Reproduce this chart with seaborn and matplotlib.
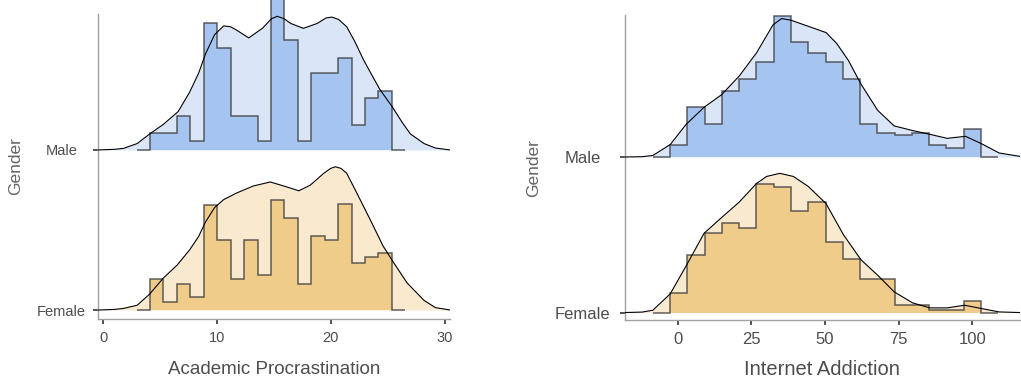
import numpy as np
import seaborn as sns
from matplotlib import pyplot as plt

# ---- data (heights in ridge units, 1 = gap between ridges) ----
genders = ["Female", "Male"]

# Academic Procrastination: 20 bins (first/last are empty padding bins)
ap_bin_start = 2.95
ap_bin_width = 1.18
ap_hist_male = [0, 0.104, 0.104, 0.215, 0.056, 0.796, 0.640, 0.215, 0.215, 0.056,
                0.98, 0.688, 0.056, 0.479, 0.479, 0.577, 0.156, 0.323, 0.371, 0]
ap_hist_female = [0, 0.192, 0.052, 0.163, 0.083, 0.656, 0.438, 0.194, 0.438, 0.219,
                  0.688, 0.573, 0.163, 0.463, 0.438, 0.660, 0.296, 0.329, 0.354, 0]

ap_dens_male_x = [-0.4, 1.0, 1.8, 3.0, 4.1, 5.3, 6.6, 7.6, 8.4, 9.0, 9.8, 10.6, 11.2, 11.7,
                  12.8, 14.0, 14.8, 15.3, 15.9, 16.5, 17.6, 18.8, 19.6, 20.1, 20.7,
                  21.4, 22.1, 22.9, 24.3, 25.4, 26.3, 27.0, 28.2, 29.2, 30.5]
ap_dens_male_y = [0, 0.004, 0.01, 0.04, 0.10, 0.16, 0.24, 0.36, 0.48, 0.60, 0.72, 0.775, 0.77,
                  0.75, 0.70, 0.76, 0.82, 0.835, 0.82, 0.79, 0.76, 0.79, 0.825, 0.83, 0.815,
                  0.77, 0.68, 0.56, 0.38, 0.27, 0.17, 0.10, 0.04, 0.012, 0.0]
ap_dens_female_x = [-0.4, 1.0, 1.8, 3.0, 4.1, 5.3, 6.5, 7.6, 8.4, 9.0, 9.8, 10.6, 11.7, 13.2,
                    14.7, 16.1, 17.2, 18.2, 19.4, 20.0, 20.4, 20.9, 21.4, 22.3, 23.5, 24.6,
                    25.4, 26.7, 28.2, 29.2, 30.5]
ap_dens_female_y = [0, 0.004, 0.01, 0.03, 0.10, 0.20, 0.28, 0.375, 0.46, 0.55, 0.64, 0.69,
                    0.73, 0.775, 0.80, 0.77, 0.745, 0.78, 0.855, 0.885, 0.895, 0.885, 0.855,
                    0.73, 0.56, 0.40, 0.31, 0.17, 0.06, 0.015, 0]

# Internet Addiction
ia_bin_start = -8.4
ia_bin_width = 5.86
ia_hist_male = [0, 0.075, 0.323, 0.215, 0.424, 0.501, 0.609, 0.908, 0.738, 0.667,
                0.609, 0.501, 0.215, 0.155, 0.140, 0.155, 0.075, 0.058, 0.183, 0]
ia_hist_female = [0, 0.127, 0.370, 0.510, 0.574, 0.546, 0.828, 0.806, 0.654, 0.710,
                  0.456, 0.344, 0.215, 0.215, 0.047, 0.047, 0.015, 0.015, 0.075, 0]

ia_dens_male_x = [-17.9, -12.0, -8.4, -2.5, 2.9, 9.0, 14.9, 20.9, 26.8, 32.4, 35.3, 38.4,
                  44.4, 50.4, 54.0, 58.0, 62.2, 67.9, 73.5, 79.8, 85.6, 91.5, 97.7,
                  103.1, 109.1, 116.2]
ia_dens_male_y = [0, 0.002, 0.01, 0.08, 0.21, 0.32, 0.40, 0.52, 0.67, 0.85, 0.89, 0.88,
                  0.84, 0.80, 0.73, 0.62, 0.47, 0.30, 0.20, 0.17, 0.146, 0.12, 0.133,
                  0.086, 0.026, 0.004]
ia_dens_female_x = [-17.9, -12.0, -8.4, -2.5, 2.9, 9.0, 14.9, 20.9, 26.8, 30.2, 34.7, 39.3,
                    44.4, 50.4, 56.3, 62.2, 67.9, 73.5, 79.8, 85.6, 91.5, 97.4, 103.1,
                    109.1, 116.2]
ia_dens_female_y = [0, 0.003, 0.015, 0.12, 0.30, 0.51, 0.61, 0.71, 0.83, 0.875, 0.895,
                    0.875, 0.81, 0.70, 0.50, 0.34, 0.24, 0.133, 0.062, 0.03, 0.03, 0.047,
                    0.026, 0.004, 0]

colors = {
    "Male": {"dens": "#dae6f7", "hist": "#a6c4f0"},
    "Female": {"dens": "#f8e9cf", "hist": "#f0cc8b"},
}


def draw_ridge(ax, base, gender, edges, hist, dens_x, dens_y):
    dens_x = np.asarray(dens_x)
    dens_y = np.asarray(dens_y) + base
    c = colors[gender]
    ax.fill_between(dens_x, base, dens_y, color=c["dens"], lw=0, zorder=1)
    hist = np.asarray(hist) + base
    ax.stairs(hist, edges, baseline=base, fill=True, color=c["hist"], lw=0,
              zorder=2, clip_on=False)
    ax.stairs(hist, edges, baseline=base, fill=False, color="#3a3a3a", alpha=0.8,
              lw=1.1, zorder=3, clip_on=False)
    sns.lineplot(x=dens_x, y=dens_y, ax=ax, color="black", lw=0.8, sort=False,
                 estimator=None, zorder=4)


def style_axes(ax, xlim, ylim, xticks, xlabel, label_size, tick_size, ypad, xlabelpad):
    ax.set_xlim(*xlim)
    ax.set_ylim(*ylim)
    ax.set_yticks([0, 1])
    ax.set_yticklabels(genders, ha="center")
    ax.set_xticks(xticks)
    ax.set_xticklabels([str(t) for t in xticks])
    ax.set_xlabel(xlabel, fontsize=label_size, color="#4d4d4d", labelpad=xlabelpad)
    ax.set_ylabel("Gender", fontsize=12.5, color="#666666")
    for side in ("left", "bottom"):
        ax.spines[side].set_color("#a0a0a0")
        ax.spines[side].set_linewidth(1.0)
    sns.despine(ax=ax)
    ax.tick_params(axis="both", length=3.5, width=1.2, color="#333333",
                   labelsize=tick_size, labelcolor="#4d4d4d")
    ax.tick_params(axis="x", pad=5)
    ax.tick_params(axis="y", pad=ypad)


sns.set_theme(style="ticks")
plt.rcParams["font.family"] = ["Liberation Sans", "DejaVu Sans"]

fig = plt.figure(figsize=(10.21, 3.79), dpi=100)
ax1 = fig.add_axes([0.096, 0.1583, 0.345, 0.805])
ax2 = fig.add_axes([0.612, 0.1544, 0.387, 0.806])

n = len(ap_hist_male)
ap_edges = ap_bin_start + ap_bin_width * np.arange(n + 1)
ia_edges = ia_bin_start + ia_bin_width * np.arange(n + 1)

draw_ridge(ax1, 1, "Male", ap_edges, ap_hist_male, ap_dens_male_x, ap_dens_male_y)
draw_ridge(ax1, 0, "Female", ap_edges, ap_hist_female, ap_dens_female_x, ap_dens_female_y)
draw_ridge(ax2, 1, "Male", ia_edges, ia_hist_male, ia_dens_male_x, ia_dens_male_y)
draw_ridge(ax2, 0, "Female", ia_edges, ia_hist_female, ia_dens_female_x, ia_dens_female_y)

style_axes(ax1, (-0.44, 30.5), (-0.056, 1.85), [0, 10, 20, 30],
           "Academic Procrastination", 13.5, 10.5, 23, 12)
style_axes(ax2, (-17.9, 116.2), (-0.051, 1.913), [0, 25, 50, 75, 100],
           "Internet Addiction", 14.5, 12, 27, 9)
ax1.yaxis.set_label_coords(-0.213, 0.5)
ax2.yaxis.set_label_coords(-0.213, 0.5)

fig.savefig("out.png", dpi=100)
plt.close(fig)
